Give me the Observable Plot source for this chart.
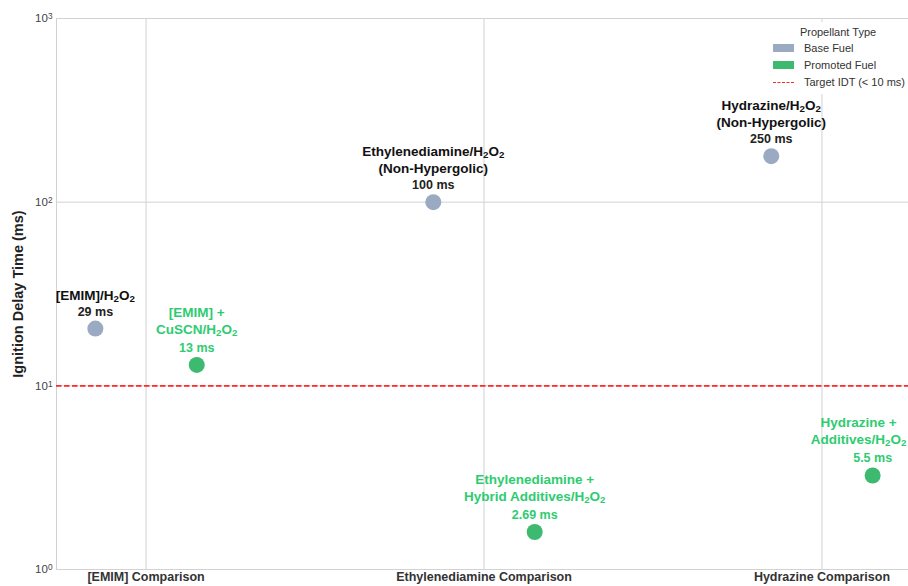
<!DOCTYPE html>
<html>
<head>
<meta charset="utf-8">
<script src="https://cdn.jsdelivr.net/npm/d3@7"></script>
<script src="https://cdn.jsdelivr.net/npm/@observablehq/plot@0.6"></script>
<style>
  html, body { margin: 0; padding: 0; background: #fff; }
  #wrap { position: relative; width: 908px; height: 586px; overflow: hidden; font-family: "Liberation Sans", Arial, sans-serif; }
  #legend { position: absolute; left: 764px; top: 22px; width: 144px; height: 72px; background: #fff; font-size: 11px; color: #333; }
  #legend .title { position: absolute; left: 0; width: 148px; text-align: center; top: 4px; }
  #legend .row { position: absolute; left: 9px; height: 14px; display: flex; align-items: center; }
  #legend .sw { width: 21px; height: 8px; margin-right: 10px; }
  #legend .dash { width: 21px; height: 0; border-top: 1.6px dashed #ff2a2a; margin-right: 10px; }
</style>
</head>
<body>
<div id="wrap"></div>
<script>
// ---- data ----
const categories = ["[EMIM] Comparison", "Ethylenediamine Comparison", "Hydrazine Comparison"];
const baseNames = ["[EMIM]/H₂O₂", "Ethylenediamine/H₂O₂\n(Non-Hypergolic)", "Hydrazine/H₂O₂\n(Non-Hypergolic)"];
const baseValues = [20.5, 100, 178];
const baseLabels = ["29 ms", "100 ms", "250 ms"];
const promotedNames = ["[EMIM] +\nCuSCN/H₂O₂", "Ethylenediamine +\nHybrid Additives/H₂O₂", "Hydrazine +\nAdditives/H₂O₂"];
const promotedValues = [13, 1.6, 3.25];
const promotedLabels = ["13 ms", "2.69 ms", "5.5 ms"];
const targetIDT = [10];
const yTicks = [1, 10, 100, 1000];
const yTickLabels = ["10⁰", "10¹", "10²", "10³"];
const yLabel = "Ignition Delay Time (ms)";
const legendTitle = "Propellant Type";
const legendItems = ["Base Fuel", "Promoted Fuel", "Target IDT (< 10 ms)"];

// ---- styling ----
const baseColor = "#9aaac2";
const promotedDot = "#3dba6f";
const promotedText = "#2ecc71";
const gridColor = "#d2d2d2";
const offset = 0.15;

const base = categories.map((c, i) => ({x: i - offset, y: baseValues[i], name: baseNames[i], label: baseLabels[i]}));
const promoted = categories.map((c, i) => ({x: i + offset, y: promotedValues[i], name: promotedNames[i], label: promotedLabels[i]}));

const font = "Liberation Sans, Arial, sans-serif";

const chart = Plot.plot({
  width: 908,
  height: 586,
  marginLeft: 56,
  marginTop: 18,
  marginBottom: 17,
  marginRight: -3,
  style: {fontFamily: font, background: "#fff", overflow: "hidden"},
  x: {type: "linear", domain: [-0.265, 2.265]},
  y: {type: "log", domain: [1, 1000]},
  marks: [
    Plot.gridX([0, 1, 2], {stroke: gridColor, strokeOpacity: 1, strokeWidth: 1}),
    Plot.gridY(yTicks, {stroke: gridColor, strokeOpacity: 1, strokeWidth: 1}),
    Plot.frame({stroke: gridColor, strokeWidth: 1}),
    Plot.axisY(yTicks, {tickSize: 0, tickPadding: 4, fontSize: 11.5, fill: "#444", label: null,
      tickFormat: (d) => yTickLabels[yTicks.indexOf(d)]}),
    Plot.axisX([0, 1, 2], {tickSize: 0, tickPadding: 3, fontSize: 12.5, fontWeight: "bold", fill: "#333", label: null,
      tickFormat: (d) => categories[d]}),
    Plot.text([yLabel], {frameAnchor: "left", textAnchor: "middle", rotate: -90, dx: -38, fontSize: 14.5, fontWeight: "bold", fill: "#222"}),
    Plot.ruleY(targetIDT, {stroke: "#ff2a2a", strokeWidth: 1.7, strokeDasharray: "5.5,2.5"}),
    Plot.dot(base, {x: "x", y: "y", r: 8, fill: baseColor, stroke: "none"}),
    Plot.dot(promoted, {x: "x", y: "y", r: 8, fill: promotedDot, stroke: "none"}),
    Plot.text(base, {x: "x", y: "y", text: "label", dy: -17, fontSize: 12.5, fontWeight: "bold", fill: "#222"}),
    Plot.text(base, {x: "x", y: "y", text: "name", dy: -29, lineAnchor: "bottom", lineHeight: 1.27, fontSize: 13.5, fontWeight: "bold", fill: "#111"}),
    Plot.text(promoted, {x: "x", y: "y", text: "label", dy: -17, fontSize: 12.5, fontWeight: "bold", fill: promotedText}),
    Plot.text(promoted, {x: "x", y: "y", text: "name", dy: -31, lineAnchor: "bottom", lineHeight: 1.27, fontSize: 13.5, fontWeight: "bold", fill: promotedText})
  ]
});

const wrap = document.getElementById("wrap");
wrap.appendChild(chart);

// render unicode sub/superscripts as real shifted tspans
const subs = {"₂": "2"};
const sups = {"⁰": "0", "¹": "1", "²": "2", "³": "3"};
const NS = "http://www.w3.org/2000/svg";
const walker = document.createTreeWalker(chart, NodeFilter.SHOW_TEXT);
const nodes = [];
while (walker.nextNode()) nodes.push(walker.currentNode);
nodes.forEach((node) => {
  const s = node.nodeValue;
  if (!/[₂⁰¹²³]/.test(s)) return;
  const frag = document.createDocumentFragment();
  let buf = "";
  for (const ch of s) {
    if (subs[ch] || sups[ch]) {
      if (buf) { frag.appendChild(document.createTextNode(buf)); buf = ""; }
      const ts = document.createElementNS(NS, "tspan");
      ts.setAttribute("font-size", "72%");
      ts.setAttribute("baseline-shift", subs[ch] ? "-22%" : "38%");
      ts.textContent = subs[ch] || sups[ch];
      frag.appendChild(ts);
    } else buf += ch;
  }
  if (buf) frag.appendChild(document.createTextNode(buf));
  node.parentNode.replaceChild(frag, node);
});

// keep labels inside the right edge
const svgRect = chart.getBoundingClientRect();
chart.querySelectorAll("text").forEach((el) => {
  const r = el.getBoundingClientRect();
  const over = r.right - (svgRect.left + 907);
  if (over > 0) {
    const tr = el.getAttribute("transform") || "";
    el.setAttribute("transform", `translate(${-over},0) ` + tr);
  }
});

// legend overlay
const lg = document.createElement("div");
lg.id = "legend";
const t = document.createElement("div");
t.className = "title"; t.textContent = legendTitle; lg.appendChild(t);
const swatches = [baseColor, promotedDot, null];
legendItems.forEach((name, i) => {
  const row = document.createElement("div");
  row.className = "row";
  row.style.top = (19 + i * 17) + "px";
  const sw = document.createElement("div");
  if (swatches[i]) { sw.className = "sw"; sw.style.background = swatches[i]; }
  else { sw.className = "dash"; }
  row.appendChild(sw);
  const s = document.createElement("span");
  s.textContent = name;
  row.appendChild(s);
  lg.appendChild(row);
});
wrap.appendChild(lg);
</script>
</body>
</html>
